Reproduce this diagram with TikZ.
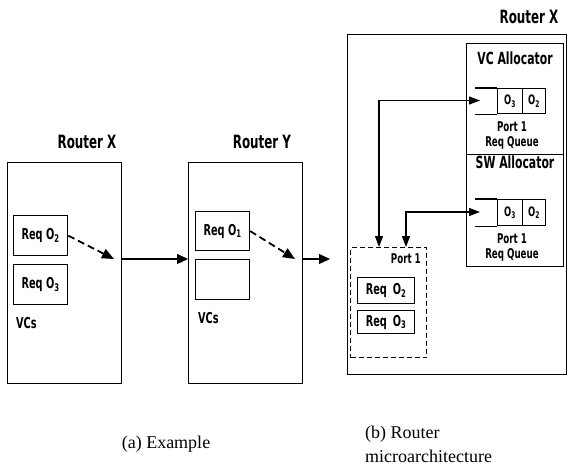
\documentclass[tikz,border=0pt]{standalone}
\usepackage{fontspec}
\setmainfont{Liberation Serif}
\newfontfamily\lblfont[FakeStretch=0.65]{DejaVu Sans}
\usetikzlibrary{arrows.meta, positioning}

\begin{document}
\begin{tikzpicture}[
    x=1pt, y=-1pt,
    frame/.style={draw, line width=1.2pt, anchor=north west, inner sep=0pt},
    vcbox/.style={frame, minimum width=54pt, font=\lblfont\bfseries\fontsize{15}{17}\selectfont},
    title/.style={anchor=base, inner sep=0pt, font=\lblfont\bfseries\fontsize{18.3}{21}\selectfont},
    alloc/.style={anchor=base, inner sep=0pt, font=\lblfont\bfseries\fontsize{16.7}{19}\selectfont},
    lbl/.style={anchor=base west, inner sep=0pt, font=\lblfont\bfseries\fontsize{15}{17}\selectfont},
    small/.style={anchor=north, inner sep=0pt, align=center, font=\lblfont\bfseries\fontsize{13.4}{15}\selectfont},
    cell/.style={frame, font=\lblfont\bfseries\fontsize{13}{15}\selectfont},
    arrow/.style={-{Triangle[length=11pt,width=10pt]}, line width=1.2pt},
    dblarrow/.style={{Triangle[length=11pt,width=8pt]}-{Triangle[length=11pt,width=8pt]}, line width=1.2pt},
    dasharrow/.style={-{Triangle[length=12pt,width=10pt]}, line width=1.8pt, dash pattern=on 7pt off 4pt},
    caption/.style={inner sep=0pt, align=left, font=\fontsize{18}{24}\selectfont},
]
\useasboundingbox (0,0) rectangle (568,467);

% (a) example: two routers
\node[frame, minimum width=114pt, minimum height=221pt] (rx) at (7,162) {};
\node[title] (rxname) at (87,148) {Router X};
\node[vcbox, minimum height=40pt] (o2x) at (13,215) {Req O\textsubscript{2}};
\node[vcbox, minimum height=40pt] (o3x) at (13,264) {Req O\textsubscript{3}};
\node[lbl] (vcsx) at (16,328) {VCs};
\coordinate (rxout) at (114,259);

\node[frame, minimum width=114pt, minimum height=221pt] (ry) at (188,162) {};
\node[title] (ryname) at (262,148) {Router Y};
\node[vcbox, minimum height=39pt] (o1y) at (195,211) {Req O\textsubscript{1}};
\node[vcbox, minimum height=40pt] (freey) at (195,259) {};
\node[lbl] (vcsy) at (198,323) {VCs};
\coordinate (ryout) at (295,259);
\coordinate (rbin) at (330,259);

\draw[dasharrow] (o2x.east) -- (rxout);
\draw[dasharrow] (o1y.east) -- (ryout);
\draw[arrow] (rxout -| rx.east) -- (rxout -| ry.west);
\draw[arrow] (ryout -| ry.east) -- (rbin);

% (b) router microarchitecture
\node[frame, minimum width=219pt, minimum height=340pt] (rb) at (347,34) {};
\node[title] (rbname) at (529,23) {Router X};
\node[frame, minimum width=97pt, minimum height=111pt] (vca) at (466,43) {};
\node[frame, minimum width=97pt, minimum height=112pt] (swa) at (466,154) {};
\node[alloc] (vcaname) at (515,64) {VC Allocator};
\node[alloc] (swaname) at (515,168) {SW Allocator};

\node[cell, minimum width=25pt, minimum height=25pt] (q1o3) at (497,88) {O\textsubscript{3}};
\node[cell, minimum width=23pt, minimum height=25pt] (q1o2) at (522,88) {O\textsubscript{2}};
\draw[line width=1.2pt] (q1o3.north west) -- ++(-22,0) (q1o3.south west) -- ++(-22,0);
\node[small] (q1name) at (512,122) {Port 1\\Req Queue};

\node[cell, minimum width=25pt, minimum height=26pt] (q2o3) at (497,199) {O\textsubscript{3}};
\node[cell, minimum width=23pt, minimum height=26pt] (q2o2) at (522,199) {O\textsubscript{2}};
\draw[line width=1.2pt] (q2o3.north west) -- ++(-22,0) (q2o3.south west) -- ++(-22,0);
\node[small] (q2name) at (512,233.5) {Port 1\\Req Queue};

\node[frame, dash pattern=on 5pt off 3pt, line width=1.4pt, minimum width=76pt, minimum height=110pt] (port) at (350,247) {};
\node[lbl, anchor=base east, font=\lblfont\bfseries\fontsize{13.4}{15}\selectfont] (portname) at (421,263) {Port 1};
\node[vcbox, minimum width=57pt, minimum height=26pt] (po2) at (357,277) {Req\, O\textsubscript{2}};
\node[vcbox, minimum width=57pt, minimum height=23pt] (po3) at (357,310) {Req\, O\textsubscript{3}};

\coordinate (q1in) at (480,100.5);
\coordinate (q2in) at (480,212);
\draw[dblarrow] (q1in) -| ([xshift=29pt]port.north west);
\draw[dblarrow] (q2in) -| ([xshift=56pt]port.north west);

% captions
\node[caption, anchor=base] (capa) at (166,448) {(a) Example};
\node[caption, anchor=north west] (capb) at (365,426) {(b) Router\\microarchitecture};
\end{tikzpicture}
\end{document}
